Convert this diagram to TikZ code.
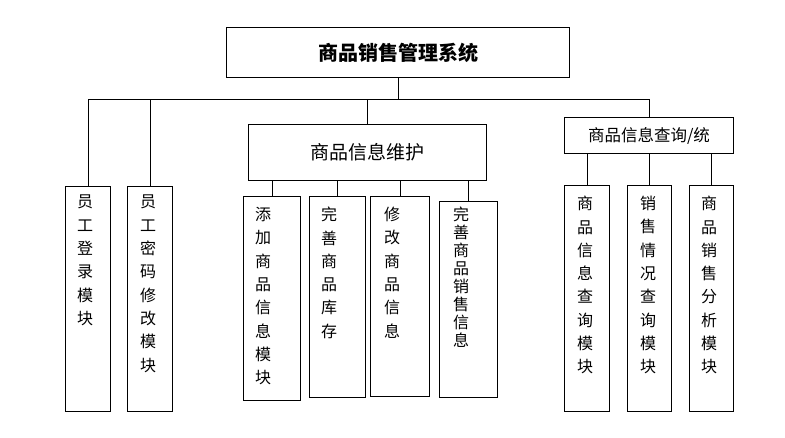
\documentclass[tikz,border=0pt]{standalone}
\usepackage{fontspec}
\newfontfamily\cjk{Noto Sans CJK SC}
\begin{document}
\begin{tikzpicture}[x=1pt,y=-1pt,
  box/.style={draw,line width=1pt,inner sep=0pt,anchor=north west},
  conn/.style={line width=1pt},
  vtext/.style={font=\cjk\fontsize{16}{23.3}\selectfont,align=center,anchor=north,inner sep=0pt},
  vtight/.style={font=\cjk\fontsize{16}{18}\selectfont,align=center,anchor=north,inner sep=0pt}]
\useasboundingbox (0,0) rectangle (785,437);
% top
\node[box,minimum width=343pt,minimum height=50pt] (top) at (226,27) {};
\node[font=\cjk\bfseries\fontsize{20}{24}\selectfont] (toptxt) at (top.center) {商品销售管理系统};
\coordinate (bus) at (0,99);
% level 2
\node[box,minimum width=45pt,minimum height=225pt] (m1) at (65,186) {};
\node[box,minimum width=45pt,minimum height=225pt] (m2) at (127,186) {};
\node[box,minimum width=238pt,minimum height=56pt] (g2) at (248,124) {};
\node[font=\cjk\fontsize{19}{23}\selectfont] (g2txt) at (g2.center) {商品信息维护};
\node[box,minimum width=169pt,minimum height=36pt] (g3) at (564,117) {};
\node[font=\cjk\fontsize{16.5}{20}\selectfont] (g3txt) at (g3.center) {商品信息查询/统};
% group 2 children
\node[box,minimum width=57pt,minimum height=204pt] (a) at (243,196) {};
\node[box,minimum width=56pt,minimum height=201pt] (b) at (309,196) {};
\node[box,minimum width=59pt,minimum height=200pt] (c) at (370,196) {};
\node[box,minimum width=58pt,minimum height=196pt] (d) at (439,201) {};
% group 3 children
\node[box,minimum width=45pt,minimum height=226pt] (e) at (564,185) {};
\node[box,minimum width=44pt,minimum height=226pt] (f) at (627,185) {};
\node[box,minimum width=44pt,minimum height=226pt] (g) at (689,185) {};
% connectors
\draw[conn] (top.south) -- (top.south |- bus);
\draw[conn] (m1.north) -- (m1.north |- bus) -- (g3.north |- bus) -- (g3.north);
\draw[conn] (m2.north) -- (m2.north |- bus);
\draw[conn] (g2.north) -- (g2.north |- bus);
\foreach \n in {a,b,c,d} \draw[conn] (\n.north) -- (\n.north |- g2.south);
\foreach \n in {e,f,g} \draw[conn] (\n.north) -- (\n.north |- g3.south);
% texts
\node[vtext] (t1) at (85,195) {员\\工\\登\\录\\模\\块};
\node[vtext] (t2) at (148,195) {员\\工\\密\\码\\修\\改\\模\\块};
\node[vtext] (ta) at (263,207) {添\\加\\商\\品\\信\\息\\模\\块};
\node[vtext] (tb) at (329,207) {完\\善\\商\\品\\库\\存};
\node[vtext] (tc) at (392,207) {修\\改\\商\\品\\信\\息};
\node[vtight] (td) at (461,207) {完\\善\\商\\品\\销\\售\\信\\息};
\node[vtext] (te) at (585,196) {商\\品\\信\\息\\查\\询\\模\\块};
\node[vtext] (tf) at (648,196) {销\\售\\情\\况\\查\\询\\模\\块};
\node[vtext] (tg) at (709,196) {商\\品\\销\\售\\分\\析\\模\\块};
\end{tikzpicture}
\end{document}
